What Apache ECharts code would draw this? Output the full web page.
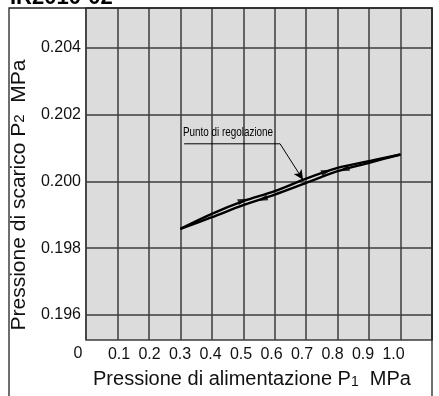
<!DOCTYPE html>
<html>
<head>
<meta charset="utf-8">
<script src="https://cdn.jsdelivr.net/npm/echarts@6/dist/echarts.min.js"></script>
<style>html,body{margin:0;padding:0;background:#fff;}#c{width:439px;height:396px;}</style>
</head>
<body>
<div id="c"></div>
<script>
// ---- data ----
var pressureIn = [0.3, 0.4, 0.5, 0.6, 0.7, 0.8, 0.9, 1.0];
var upperBranch = [0.19858, 0.19903, 0.19941, 0.19971, 0.20009, 0.20041, 0.20061, 0.20081];
var lowerBranch = [0.19858, 0.19893, 0.19929, 0.19961, 0.19996, 0.20031, 0.20056, 0.20081];
var upperArrows = [[0.50, 0.19943], [0.765, 0.20030]];
var lowerArrows = [[0.56, 0.19947], [0.82, 0.20036]];
var xTickLabels = [0.1, 0.2, 0.3, 0.4, 0.5, 0.6, 0.7, 0.8, 0.9, 1.0];
var yTickValues = [0.196, 0.198, 0.200, 0.202, 0.204];
var noteText = 'Punto di regolazione';
var noteAnchor = [0.4515, 0.20146];
var noteUnderline = [[0.312, 0.20113], [0.617, 0.20113]];
var noteTip = [0.69, 0.20005];

function pairs(xs, ys) { return xs.map(function (x, i) { return [x, ys[i]]; }); }

var chart = echarts.init(document.getElementById('c'), null, {renderer: 'canvas'});
var FONT = 'Liberation Sans, Arial, sans-serif';
var lineCol = '#3c3c3c';

function baseGraphics() {
  return [
    {type: 'rect', shape: {x: 9, y: 8, width: 423, height: 400}, style: {fill: 'none', stroke: '#222', lineWidth: 1.3}, z: 10},
    {type: 'text', x: 10, y: 9, style: {text: 'IR2010-02', font: 'bold 22px Liberation Sans, Arial, sans-serif', fill: '#000', verticalAlign: 'bottom'}},
    {type: 'text', x: 78, y: 354, style: {text: '0', font: '16px Liberation Sans, Arial, sans-serif', fill: '#111', align: 'center', verticalAlign: 'middle'}}
  ];
}

chart.setOption({
  backgroundColor: '#ffffff',
  animation: false,
  textStyle: {fontFamily: FONT},
  graphic: baseGraphics(),
  grid: {left: 86, right: 7, top: 8, bottom: 56, show: true, backgroundColor: '#dcdcdc', borderColor: lineCol, borderWidth: 1.5},
  xAxis: [{
    type: 'value', min: 0, max: 1.1, interval: 0.1,
    axisLine: {show: false}, axisTick: {show: false}, axisLabel: {show: false},
    splitLine: {show: true, lineStyle: {color: lineCol, width: 1.5}},
    name: '{t|Pressione di alimentazione P}{s|1}{t|  MPa}',
    nameLocation: 'middle', nameGap: 29,
    nameTextStyle: {padding: [0, 14, 0, 0], rich: {t: {fontSize: 20, color: '#111', fontFamily: FONT}, s: {fontSize: 14, color: '#111', fontFamily: FONT, verticalAlign: 'bottom', padding: [6, 0, 0, 0]}}}
  }, {
    type: 'value', position: 'bottom', min: -0.0082, max: 1.1262,
    axisLine: {show: false}, axisTick: {show: false}, splitLine: {show: false},
    axisLabel: {customValues: xTickLabels, margin: 7, fontSize: 16, color: '#111', fontFamily: FONT,
      formatter: function (v) { return v.toFixed(1); }}
  }],
  yAxis: {
    type: 'value', min: 0.19525, max: 0.2052,
    axisLine: {show: false},
    axisTick: {show: false, customValues: yTickValues},
    axisLabel: {customValues: yTickValues, margin: 5, fontSize: 16, color: '#111', fontFamily: FONT,
      formatter: function (v) { return v.toFixed(3); }},
    splitLine: {show: true, lineStyle: {color: lineCol, width: 1.5}},
    name: '{t|Pressione di scarico P}{s|2}{t|  MPa}',
    nameLocation: 'middle', nameGap: 50,
    nameTextStyle: {padding: [0, 42, 0, 0], rich: {t: {fontSize: 21, color: '#111', fontFamily: FONT}, s: {fontSize: 15, color: '#111', fontFamily: FONT}}}
  },
  series: [
    {type: 'line', data: pairs(pressureIn, upperBranch), smooth: 0.3, symbol: 'none', lineStyle: {color: '#000', width: 2.4}, z: 5},
    {type: 'line', data: pairs(pressureIn, lowerBranch), smooth: 0.3, symbol: 'none', lineStyle: {color: '#000', width: 2.4}, z: 5},
    {type: 'scatter', data: upperArrows, symbol: 'triangle', symbolSize: [6, 11], symbolRotate: -72, itemStyle: {color: '#000'}, z: 6},
    {type: 'scatter', data: lowerArrows, symbol: 'triangle', symbolSize: [6, 11], symbolRotate: 108, itemStyle: {color: '#000'}, z: 6},
    {type: 'line', data: noteUnderline, symbol: 'none', lineStyle: {color: '#000', width: 1}, z: 7,
      markLine: {
        silent: true, animation: false,
        lineStyle: {color: '#000', width: 1, type: 'solid'},
        label: {show: false},
        symbolSize: [7, 10],
        data: [
          [{coord: noteUnderline[1], symbol: 'none'}, {coord: noteTip, symbol: 'arrow'}]
        ]
      }
    }
  ]
});

// annotation text placed through the chart's own coordinate system, condensed horizontally
var p = chart.convertToPixel({xAxisIndex: 0, yAxisIndex: 0}, noteAnchor);
var g = baseGraphics();
g.push({type: 'text', x: p[0], y: p[1], scaleX: 0.76, z: 12,
  style: {text: noteText, font: '13px Liberation Sans, Arial, sans-serif', fill: '#000', align: 'center', verticalAlign: 'middle'}});
chart.setOption({graphic: g});
</script>
</body>
</html>
